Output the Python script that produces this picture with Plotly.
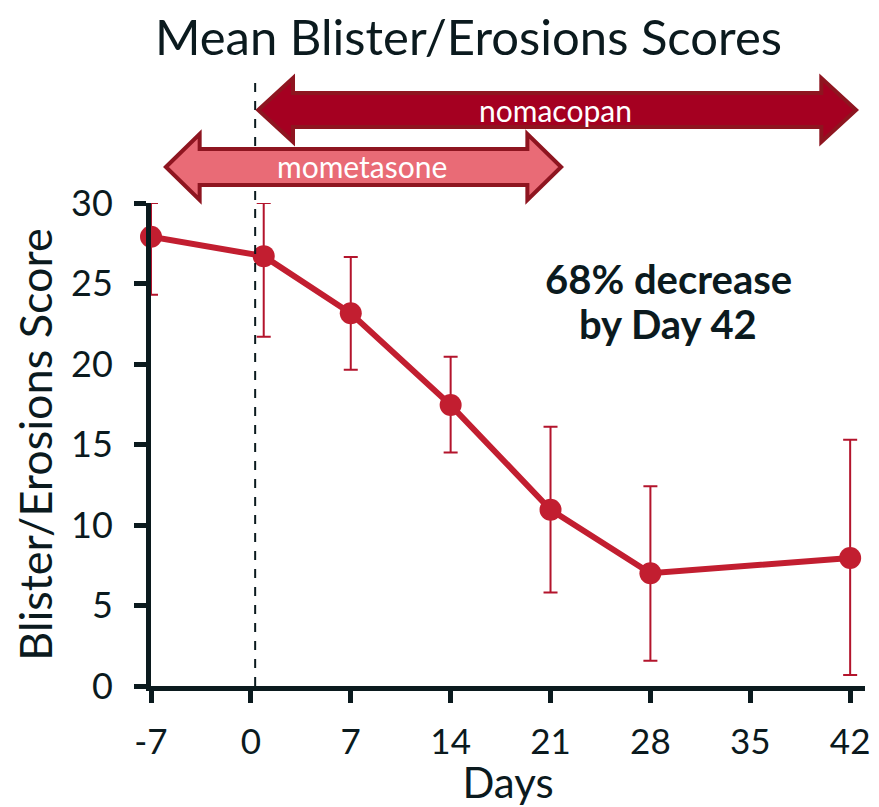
import plotly.graph_objects as go

# ---- data ----
days = [-7, 0.9, 7, 14, 21, 28, 42]
mean_score = [27.9, 26.7, 23.15, 17.45, 10.95, 7.0, 7.95]
upper_bound = [30.0, 30.0, 26.65, 20.45, 16.1, 12.4, 15.3]
lower_bound = [24.3, 21.7, 19.65, 14.5, 5.8, 1.57, 0.68]
x_ticks = [-7, 0, 7, 14, 21, 28, 35, 42]
y_ticks = [0, 5, 10, 15, 20, 25, 30]
treatment_start_day = 0.3

err_plus = [u - m for u, m in zip(upper_bound, mean_score)]
err_minus = [m - l for m, l in zip(mean_score, lower_bound)]

W, H = 879, 807
L, R, T, B = 151, 9, 203, 121
PW, PH = W - L - R, H - T - B
DARK = "#0B1A1E"
FONT = "Lato"


def px(x):
    return (x - L) / PW


def py(y):
    return (H - B - y) / PH


def arrow_path(x0, x1, yc, shaft_half, head_half, head_len):
    pts = [
        (x0, yc),
        (x0 + head_len, yc - head_half),
        (x0 + head_len, yc - shaft_half),
        (x1 - head_len, yc - shaft_half),
        (x1 - head_len, yc - head_half),
        (x1, yc),
        (x1 - head_len, yc + head_half),
        (x1 - head_len, yc + shaft_half),
        (x0 + head_len, yc + shaft_half),
        (x0 + head_len, yc + head_half),
    ]
    return "M " + " L ".join(f"{px(a):.5f},{py(b):.5f}" for a, b in pts) + " Z"


def label(text, x, y, size, color=DARK):
    return dict(text=text, xref="paper", yref="paper", x=px(x), y=py(y),
                xanchor="center", yanchor="middle", showarrow=False,
                font=dict(family=FONT, size=size, color=color))


fig = go.Figure()
fig.add_trace(go.Scatter(
    x=days, y=mean_score, mode="lines+markers",
    line=dict(color="#C21E30", width=6),
    marker=dict(color="#C21E30", size=22),
    error_y=dict(type="data", symmetric=False, array=err_plus, arrayminus=err_minus,
                 color="#B3142C", thickness=2, width=7),
    cliponaxis=False,
    showlegend=False,
))

shapes = [
    dict(type="line", xref="x", yref="paper", x0=treatment_start_day, x1=treatment_start_day,
         y0=0, y1=py(78), line=dict(color=DARK, width=2, dash="dash")),
    dict(type="path", xref="paper", yref="paper",
         path=arrow_path(259, 861, 110, 17, 32, 35),
         fillcolor="#A50021", line=dict(color="#8E1520", width=4)),
    dict(type="path", xref="paper", yref="paper",
         path=arrow_path(166, 564, 167, 18, 33, 34),
         fillcolor="#E96B76", line=dict(color="#8E1520", width=4)),
]

annotations = [
    label("nomacopan", 558, 110, 30, "white"),
    label("mometasone", 363, 166, 30, "white"),
    label("<b>68% decrease</b>", 672, 279, 40),
    label("<b>by Day 42</b>", 672, 324, 40),
    label("Mean Blister/Erosions Scores", 471, 36, 49),
]

fig.update_layout(
    width=W, height=H,
    margin=dict(l=L, r=R, t=T, b=B),
    paper_bgcolor="white", plot_bgcolor="white",
    font=dict(family=FONT, color=DARK),
    shapes=shapes, annotations=annotations,
    xaxis=dict(range=[-7, 43.04], tickvals=x_ticks, ticktext=[str(v) for v in x_ticks],
               showgrid=False, zeroline=False, showline=True, linewidth=5, linecolor=DARK,
               ticks="outside", ticklen=12, tickwidth=5, tickcolor=DARK,
               ticklabelstandoff=9,
               tickfont=dict(family=FONT, size=35, color=DARK),
               title=dict(text="Days", font=dict(family=FONT, size=42, color=DARK), standoff=4)),
    yaxis=dict(range=[0, 30], tickvals=y_ticks, showgrid=False, zeroline=False,
               showline=True, linewidth=5, linecolor=DARK,
               ticks="outside", ticklen=12, tickwidth=5, tickcolor=DARK,
               ticklabelstandoff=14,
               tickfont=dict(family=FONT, size=36, color=DARK),
               title=dict(text="Blister/Erosions Score", font=dict(family=FONT, size=45, color=DARK),
                          standoff=6)),
)

fig.write_html("out.html")
